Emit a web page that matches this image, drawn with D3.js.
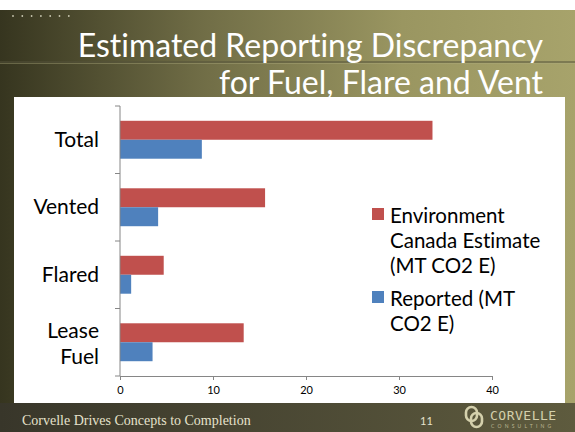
<!DOCTYPE html>
<html>
<head>
<meta charset="utf-8">
<script src="https://cdn.jsdelivr.net/npm/d3@7"></script>
<style>
  html, body { margin: 0; padding: 0; background: #fff; }
  svg { display: block; }
  text { font-variant-ligatures: none; }
</style>
</head>
<body>
<script>
'use strict';

// chart data
const categories = ['Total', 'Vented', 'Flared', 'Lease Fuel'];
const series = ['Environment Canada Estimate (MT CO2 E)', 'Reported (MT CO2 E)'];
const estimate = [33.6, 15.6, 4.7, 13.3];
const reported = [8.8, 4.1, 1.2, 3.5];
const xTicks = [0, 10, 20, 30, 40];

(function () {
    const W = 575, H = 432;
    const font = 'Lato, "Open Sans", sans-serif';

    const svg = d3.select('body').append('svg')
        .attr('width', W)
        .attr('height', H);

    // slide background
    const defs = svg.append('defs');
    const bg = defs.append('linearGradient').attr('id', 'bg');
    bg.append('stop').attr('offset', '0%').attr('stop-color', '#36351f');
    bg.append('stop').attr('offset', '35%').attr('stop-color', '#706d46');
    bg.append('stop').attr('offset', '70%').attr('stop-color', '#9a9661');
    bg.append('stop').attr('offset', '100%').attr('stop-color', '#a7a36b');
    const ft = defs.append('linearGradient').attr('id', 'ft');
    ft.append('stop').attr('offset', '0%').attr('stop-color', '#38362a');
    ft.append('stop').attr('offset', '100%').attr('stop-color', '#5e5b3e');

    svg.append('rect').attr('width', W).attr('height', H).attr('fill', '#fff');
    svg.append('rect').attr('y', 10).attr('width', W).attr('height', H - 10).attr('fill', 'url(#bg)');
    svg.append('rect').attr('y', 403).attr('width', W).attr('height', H - 403).attr('fill', 'url(#ft)');

    // little dots top left
    svg.append('g').selectAll('circle')
        .data(d3.range(7))
        .enter().append('circle')
        .attr('cx', (d) => 13 + d * 9.3)
        .attr('cy', 16)
        .attr('r', 0.9)
        .attr('fill', '#c9c7b0');

    // separator line
    svg.append('line').attr('x1', 0).attr('x2', W).attr('y1', 62).attr('y2', 62)
        .attr('stroke', '#55533a').attr('stroke-width', 1.2);
    svg.append('line').attr('x1', 0).attr('x2', W).attr('y1', 63.5).attr('y2', 63.5)
        .attr('stroke', '#b0ad80').attr('stroke-opacity', 0.4);

    // title
    const title = svg.append('text')
        .attr('text-anchor', 'end')
        .attr('fill', '#fff')
        .style('font-family', font)
        .style('font-size', '32px');
    title.append('tspan').attr('x', 543).attr('y', 57).text('Estimated Reporting Discrepancy');
    title.append('tspan').attr('x', 543).attr('y', 94).text('for Fuel, Flare and Vent');

    // white chart panel
    svg.append('rect')
        .attr('x', 14).attr('y', 97)
        .attr('width', 551).attr('height', 306)
        .attr('fill', '#fff');

    // scales
    const x = d3.scaleLinear().domain([0, 40]).range([120, 492]);
    const y = d3.scaleBand().domain(categories).range([106, 376]);
    const inner = d3.scaleBand().domain(series)
        .range([0, y.bandwidth()])
        .paddingOuter(0.78);
    const colors = d3.scaleOrdinal().domain(series).range(['#c0504d', '#4f81bd']);

    const rows = categories.map((c, i) => ({ cat: c, vals: [estimate[i], reported[i]] }));

    // bars
    const groups = svg.append('g').selectAll('g')
        .data(rows)
        .enter().append('g')
        .attr('transform', (d) => 'translate(0,' + y(d.cat) + ')');
    groups.selectAll('rect')
        .data((d) => d.vals.map((v, j) => ({ s: series[j], v: v })))
        .enter().append('rect')
        .attr('x', x(0))
        .attr('y', (d) => inner(d.s))
        .attr('width', (d) => x(d.v) - x(0))
        .attr('height', inner.bandwidth())
        .attr('fill', (d) => colors(d.s));

    // x axis
    const xAxis = svg.append('g')
        .attr('transform', 'translate(0,376)')
        .call(d3.axisBottom(x).tickValues(xTicks).tickSize(4).tickPadding(6));
    xAxis.selectAll('path, line').attr('stroke', '#868686');
    xAxis.selectAll('text')
        .style('font-family', font)
        .style('font-size', '11px')
        .attr('fill', '#000');

    // y axis: ticks at band edges
    const yAxis = svg.append('g');
    yAxis.append('line')
        .attr('x1', x(0)).attr('x2', x(0))
        .attr('y1', y.range()[0]).attr('y2', y.range()[1])
        .attr('stroke', '#868686');
    yAxis.selectAll('.tk')
        .data(categories.concat(['end']))
        .enter().append('line')
        .attr('class', 'tk')
        .attr('x1', x(0) - 5).attr('x2', x(0))
        .attr('y1', (d, i) => y.range()[0] + i * y.step())
        .attr('y2', (d, i) => y.range()[0] + i * y.step())
        .attr('stroke', '#868686');

    // category labels
    const labels = svg.append('g').selectAll('text')
        .data(categories)
        .enter().append('text')
        .attr('text-anchor', 'end')
        .attr('fill', '#000')
        .style('font-family', font)
        .style('font-size', '21px');
    labels.each(function (d) {
        const words = d.split(' ');
        const cy = y(d) + y.bandwidth() / 2;
        const t = d3.select(this);
        if (words.length === 1) {
            t.append('tspan').attr('x', 99).attr('y', cy + 7).text(d);
        } else {
            t.append('tspan').attr('x', 99).attr('y', cy - 4).text(words[0]);
            t.append('tspan').attr('x', 99).attr('y', cy + 22).text(words[1]);
        }
    });

    // legend
    const legendLines = [
        ['Environment', 'Canada Estimate', '(MT CO2 E)'],
        ['Reported (MT', 'CO2 E)']
    ];
    const legendTop = [223, 306];
    const legend = svg.append('g').selectAll('g')
        .data(series)
        .enter().append('g');
    legend.append('rect')
        .attr('x', 372)
        .attr('y', (d, i) => legendTop[i] - 15)
        .attr('width', 12).attr('height', 12)
        .attr('fill', (d) => colors(d));
    legend.append('text')
        .attr('fill', '#000')
        .style('font-family', font)
        .style('font-size', '20.5px')
        .each(function (d, i) {
            d3.select(this).selectAll('tspan')
                .data(legendLines[i])
                .enter().append('tspan')
                .attr('x', 390)
                .attr('y', (l, k) => legendTop[i] + k * 25)
                .text((l) => l);
        });

    // footer
    svg.append('text')
        .attr('x', 22).attr('y', 425)
        .attr('fill', '#e6e2cc')
        .style('font-family', '"Liberation Serif", "DejaVu Serif", serif')
        .style('font-size', '14px')
        .text('Corvelle Drives Concepts to Completion');
    svg.append('text')
        .attr('x', 420).attr('y', 425)
        .attr('fill', '#e6e2cc')
        .style('font-family', font)
        .style('font-size', '11px')
        .text('11');

    // logo
    const logo = svg.append('g').attr('fill', 'none').attr('stroke', '#d4d0ac').attr('stroke-width', 2.6);
    logo.append('rect').attr('x', 466).attr('y', 407).attr('width', 11).attr('height', 14).attr('rx', 5.5);
    logo.append('rect').attr('x', 471).attr('y', 413).attr('width', 11).attr('height', 14).attr('rx', 5.5);
    svg.append('text')
        .attr('x', 490).attr('y', 420)
        .attr('fill', '#d4d0ac')
        .style('font-family', '"DejaVu Sans Mono", monospace')
        .style('font-size', '13px')
        .style('letter-spacing', '0.5px')
        .text('CORVELLE');
    svg.append('text')
        .attr('x', 491).attr('y', 427.5)
        .attr('fill', '#bcb894')
        .style('font-family', font)
        .style('font-size', '5px')
        .style('letter-spacing', '3.2px')
        .text('CONSULTING');
})();
</script>
</body>
</html>
